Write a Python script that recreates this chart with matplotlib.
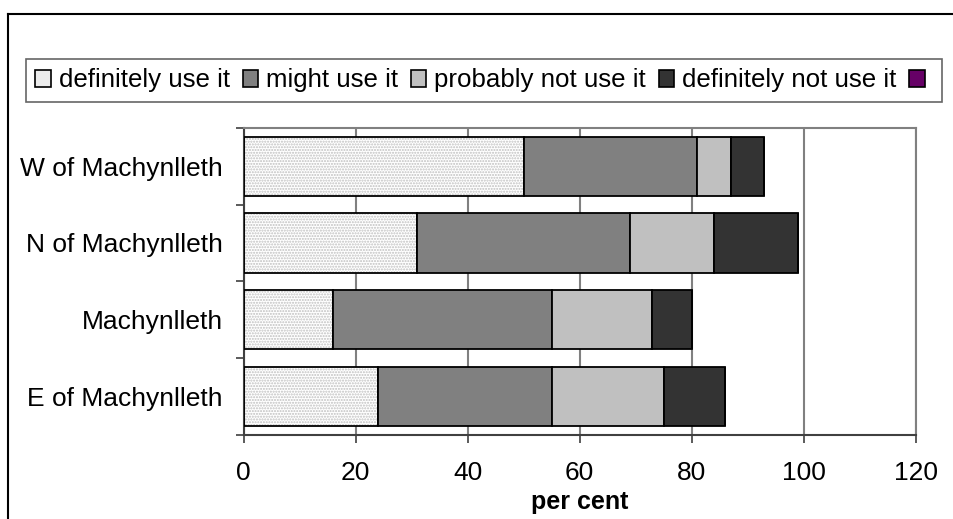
import numpy as np
import matplotlib
matplotlib.use("Agg")
import matplotlib.pyplot as plt
from matplotlib.patches import Patch
from matplotlib.lines import Line2D

# datos (porcentajes)
categorias = ["W of Machynlleth", "N of Machynlleth", "Machynlleth", "E of Machynlleth"]
series = ["definitely use it", "might use it", "probably not use it", "definitely not use it", ""]
definitivamente_si = [50, 31, 16, 24]
quizas_si = [31, 38, 39, 31]
probablemente_no = [6, 15, 18, 20]
definitivamente_no = [6, 15, 7, 11]
otro = [0, 0, 0, 0]
xticks = [0, 20, 40, 60, 80, 100, 120]

valores = [definitivamente_si, quizas_si, probablemente_no, definitivamente_no, otro]
colores = ["#ececec", "#808080", "#c0c0c0", "#333333", "#660066"]

plt.rcParams["font.family"] = ["Liberation Sans", "DejaVu Sans"]

W, H = 954, 519
fig = plt.figure(figsize=(W / 100, H / 100), dpi=100)
ax = fig.add_axes([243.7 / W, 1 - 435 / H, (915.7 - 243.7) / W, (435 - 127.7) / H])

y = np.arange(len(categorias))
izq = np.zeros(len(categorias))
alto = 0.77
for i, (vals, col) in enumerate(zip(valores, colores)):
    vals = np.array(vals, dtype=float)
    if i == 0:
        # relleno punteado como en la grafica original
        ax.barh(y, vals, left=izq, height=alto, color="white", hatch="......",
                edgecolor="#c0c0c0", linewidth=0, zorder=2)
        ax.barh(y, vals, left=izq, height=alto, fill=False,
                edgecolor="black", linewidth=1.3, zorder=3)
    else:
        ax.barh(y, vals, left=izq, height=alto, color=col,
                edgecolor="black", linewidth=1.3, zorder=3)
    izq += vals

ax.set_xlim(0, 120)
ax.set_ylim(len(categorias) - 0.5, -0.5)
ax.set_xticks(xticks)
ax.set_xticklabels([str(t) for t in xticks], fontsize=19)
ax.set_yticks(y)
ax.set_yticklabels(categorias, fontsize=19)
ax.set_yticks(np.arange(len(categorias) + 1) - 0.5, minor=True)
ax.tick_params(axis="y", which="major", length=0, pad=15)
ax.tick_params(axis="y", which="minor", length=6, width=1.2, color="#404040")
ax.tick_params(axis="x", which="major", length=6, width=1.2, color="#404040", pad=13)
ax.grid(axis="x", color="#808080", linewidth=1.5, zorder=0)
ax.set_axisbelow(True)
for lado in ["top", "right"]:
    ax.spines[lado].set_color("#808080")
    ax.spines[lado].set_linewidth(1.5)
for lado in ["bottom", "left"]:
    ax.spines[lado].set_color("#404040")
    ax.spines[lado].set_linewidth(1.5)
ax.set_xlabel("per cent", fontsize=18, fontweight="bold", labelpad=3)

# leyenda arriba en una sola fila
manejadores = [Patch(facecolor=col, edgecolor="black", linewidth=1.2) for col in colores]
leg = fig.legend(manejadores, series, loc="center", bbox_to_anchor=(484 / W, 1 - 80.5 / H),
                 ncol=5, fontsize=18.6, frameon=True, fancybox=False, handlelength=0.6,
                 handleheight=0.6, handletextpad=0.3, columnspacing=0.5, borderpad=0.35,
                 borderaxespad=0)
leg.get_frame().set_edgecolor("#404040")
leg.get_frame().set_linewidth(1.2)

# marco exterior del grafico
fig.add_artist(Line2D([8 / W, 8 / W], [0, 1 - 14 / H], transform=fig.transFigure, color="black", linewidth=1.5))
fig.add_artist(Line2D([8 / W, 1], [1 - 14 / H, 1 - 14 / H], transform=fig.transFigure, color="black", linewidth=1.5))

fig.savefig("out.png", dpi=100)
